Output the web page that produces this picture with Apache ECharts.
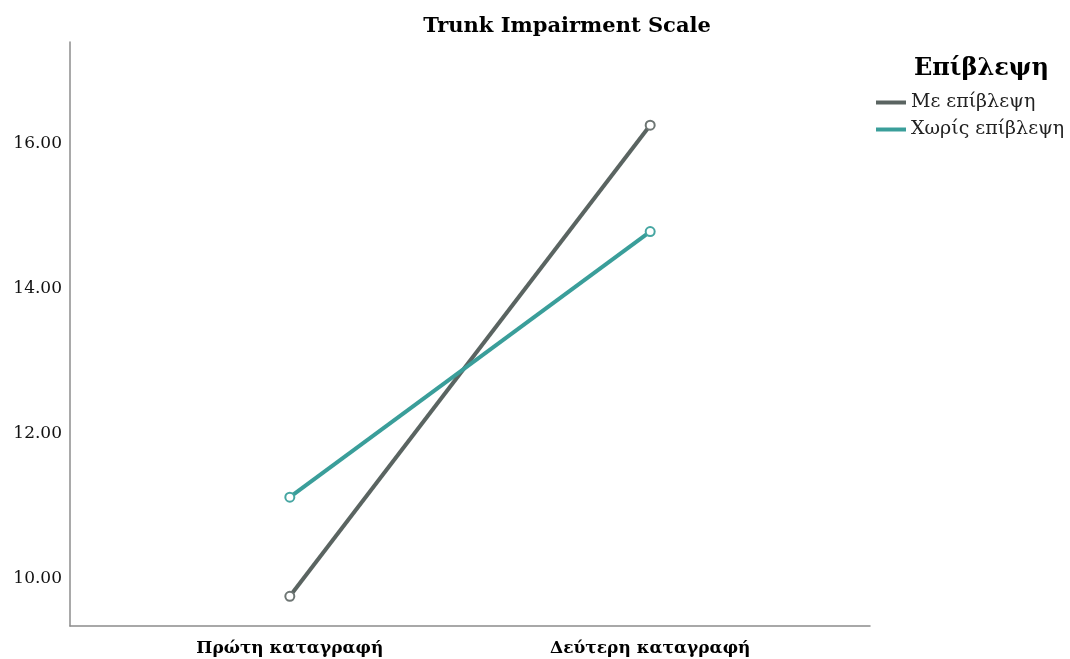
<!DOCTYPE html>
<html>
<head>
<meta charset="utf-8">
<script src="https://cdn.jsdelivr.net/npm/echarts@6/dist/echarts.min.js"></script>
<style>
html,body{margin:0;padding:0;background:#fff;}
#chart{width:1070px;height:659px;}
</style>
</head>
<body>
<div id="chart"></div>
<script>
// categories (x positions 0 and 1 on a value axis)
var categories = ['Πρώτη καταγραφή', 'Δεύτερη καταγραφή'];
var seriesNames = ['Με επίβλεψη', 'Χωρίς επίβλεψη'];
var withSupervision = [9.75, 16.26];
var withoutSupervision = [11.12, 14.79];
var yTicks = [10, 12, 14, 16];

var chart = echarts.init(document.getElementById('chart'));
var font = '"DejaVu Serif", "Liberation Serif", serif';

function toPoints(arr) {
    return arr.map(function (v, i) { return [i, v]; });
}

var option = {
    backgroundColor: '#fff',
    animation: false,
    title: [{
        text: 'Trunk Impairment Scale',
        left: 562,
        top: 11,
        textAlign: 'center',
        textStyle: { fontFamily: font, fontSize: 21, fontWeight: 'bold', color: '#000' }
    }, {
        text: 'Επίβλεψη',
        left: 909,
        top: 52,
        textStyle: { fontFamily: font, fontSize: 24, fontWeight: 'bold', color: '#000' }
    }],
    legend: {
        orient: 'vertical',
        left: 871,
        top: 88,
        itemGap: 8,
        itemWidth: 30,
        itemHeight: 4,
        icon: 'rect',
        textStyle: { fontFamily: font, fontSize: 19, color: '#222' },
        data: [
            { name: seriesNames[0], itemStyle: { color: '#5a6461', borderWidth: 0 } },
            { name: seriesNames[1], itemStyle: { color: '#3a9e9a', borderWidth: 0 } }
        ]
    },
    grid: { left: 70, right: 200, top: 42, bottom: 33 },
    xAxis: {
        type: 'value',
        min: -0.61,
        max: 1.61,
        axisLine: { show: true, onZero: false, lineStyle: { color: '#8c8c8c', width: 1.5 } },
        axisTick: { show: false },
        splitLine: { show: false },
        axisLabel: {
            customValues: [0, 1],
            margin: 14,
            fontFamily: font,
            fontSize: 17,
            fontWeight: 'bold',
            color: '#000',
            formatter: function (v) { return categories[Math.round(v)] || ''; }
        }
    },
    yAxis: {
        type: 'value',
        min: 9.34,
        max: 17.41,
        axisLine: { show: true, onZero: false, lineStyle: { color: '#8c8c8c', width: 1.5 } },
        axisTick: { show: false },
        splitLine: { show: false },
        axisLabel: {
            customValues: yTicks,
            margin: 8,
            fontFamily: font,
            fontSize: 17,
            color: '#111',
            formatter: function (v) { return v.toFixed(2); }
        }
    },
    series: [{
        name: seriesNames[0],
        type: 'line',
        data: toPoints(withSupervision),
        symbol: 'emptyCircle',
        symbolSize: 9,
        showSymbol: true,
        color: '#5a6461',
        lineStyle: { width: 4, color: '#5a6461' },
        itemStyle: { color: '#6e7674', borderWidth: 1.5 }
    }, {
        name: seriesNames[1],
        type: 'line',
        data: toPoints(withoutSupervision),
        symbol: 'emptyCircle',
        symbolSize: 9,
        showSymbol: true,
        color: '#3a9e9a',
        lineStyle: { width: 4, color: '#3a9e9a' },
        itemStyle: { color: '#46a6a2', borderWidth: 1.5 }
    }]
};
chart.setOption(option);
window.addEventListener('resize', function () { chart.resize(); });
</script>
</body>
</html>
